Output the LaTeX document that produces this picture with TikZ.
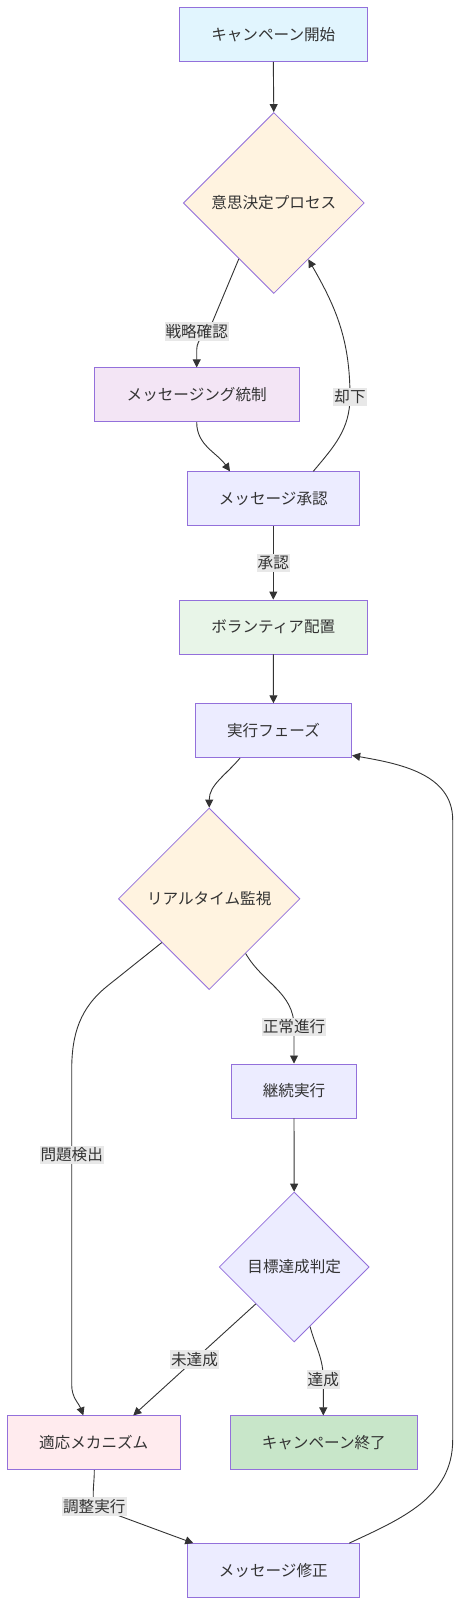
\documentclass[tikz,border=0pt]{standalone}
\usepackage{fontspec}
\usepackage{xcolor}
\usepackage{tikz}
\usetikzlibrary{arrows.meta, positioning, calc, shapes.geometric}
\newfontfamily\jpfont{Noto Sans CJK JP}
\definecolor{edge}{HTML}{333333}
\definecolor{bord}{HTML}{9370DB}
\definecolor{cstart}{HTML}{E1F5FE}
\definecolor{cdec}{HTML}{FFF3E0}
\definecolor{cctl}{HTML}{F3E5F5}
\definecolor{cvol}{HTML}{E8F5E8}
\definecolor{cdef}{HTML}{ECECFF}
\definecolor{cadp}{HTML}{FFEBEE}
\definecolor{cend}{HTML}{C8E6C9}
\definecolor{clbl}{HTML}{E8E8E8}
\tikzset{
	box/.style={draw=bord, line width=0.8pt, text=edge, minimum height=54pt, inner sep=0pt, font=\jpfont\fontsize{15.6}{18}\selectfont},
	dec/.style={box, diamond, minimum width=#1, minimum height=#1},
	lbl/.style={fill=clbl, text=edge, inner xsep=1pt, inner ysep=2pt, font=\jpfont\fontsize{15.6}{18}\selectfont},
	conn/.style={draw=edge, line width=0.9pt},
	arr/.style={conn, -{Triangle[length=8pt,width=8pt]}}
}

\begin{document}
\begin{tikzpicture}[x=1pt, y=-1pt]
			\path[fill=white] (0,0) rectangle (461,1606);
			\useasboundingbox (0,0) rectangle (461,1606);
			\node[box, fill=cstart, minimum width=188pt] (s) at (273.3,34.5) {キャンペーン開始};
			\node[dec=181pt, fill=cdec] (d1) at (273.8,203) {意思決定プロセス};
			\node[box, fill=cctl, minimum width=204.7pt] (m1) at (196.7,394.8) {メッセージング統制};
			\node[box, fill=cdef, minimum width=172pt] (m2) at (273.3,498.7) {メッセージ承認};
			\node[box, fill=cvol, minimum width=188pt] (v) at (273.3,627) {ボランティア配置};
			\node[box, fill=cdef, minimum width=156.4pt] (e) at (273.5,730.7) {実行フェーズ};
			\node[dec=181.6pt, fill=cdec] (d2) at (209.2,898.8) {リアルタイム監視};
			\node[box, fill=cdef, minimum width=124.3pt] (c) at (294,1090.9) {継続実行};
			\node[dec=150pt, fill=cdef] (d3) at (294.2,1267) {目標達成判定};
			\node[box, fill=cadp, minimum width=172.7pt] (a) at (93.7,1442.8) {適応メカニズム};
			\node[box, fill=cend, minimum width=187.7pt] (f) at (323.8,1442.8) {キャンペーン終了};
			\node[box, fill=cdef, minimum width=172pt] (m3) at (273.3,1570.5) {メッセージ修正};
			\coordinate (l1) at (196.7,331.7);
			\coordinate (k1a) at (212,323);
			\coordinate (k1b) at (196.7,350);
			\coordinate (l2) at (350,396.7);
			\coordinate (l4) at (294,1026.7);
			\coordinate (l5) at (71.7,1155);
			\coordinate (k5s) at (108,985.5);
			\coordinate (k5a) at (71.7,1070);
			\coordinate (k5b) at (71.7,1385);
			\coordinate (l7) at (323.3,1379.3);
			\coordinate (l8) at (94.3,1506.7);
			\coordinate (r1) at (452.7,1440);
			\coordinate (r2) at (452.7,820);
			\draw[arr] (s.south) -- (d1.north);
			\draw[arr] ($(d1.west)!.615!(d1.south)$) -- (k1a) to[out=-114,in=90] (k1b) -- (m1.north);
			\draw[arr] (m1.south) to[out=-90,in=125] ([xshift=-43.3pt]m2.north);
			\draw[arr] ([xshift=40pt]m2.north) to[out=50,in=-90] (l2) to[out=90,in=-60] ($(d1.south)!.38!(d1.east)$);
			\draw[arr] (m2) -- node[lbl] (t3) {承認} (v);
			\draw[arr] (v) -- (e);
			\draw[arr] ([xshift=-33.5pt]e.south) to[out=-130,in=90] (d2.north);
			\draw[arr] ($(d2.south)!.4!(d2.east)$) to[out=-60,in=90] (l4) -- (c.north);
			\draw[arr] ($(d2.west)!.48!(d2.south)$) -- (k5s) to[out=-141.6,in=90] (k5a) -- (k5b) to[out=-90,in=110] ([xshift=-10.4pt]a.north);
			\draw[arr] (c) -- (d3);
			\draw[arr] ($(d3.west)!.49!(d3.south)$) -- node[lbl] (t6) {未達成} ([xshift=39.6pt]a.north);
			\draw[arr] ($(d3.south)!.21!(d3.east)$) to[out=-75,in=90] (l7) -- ([xshift=-0.5pt]f.north);
			\draw[arr] ([xshift=0.6pt]a.south) to[out=-90,in=100] (l8) to[out=-20,in=160] ([xshift=-80pt]m3.north);
			\draw[arr] ([xshift=76pt]m3.north) to[out=25,in=-90] (r1) -- (r2) to[out=90,in=-10] ([yshift=2.7pt]e.south east);
			\node[lbl] (t1) at (l1) {戦略確認};
			\node[lbl] (t2) at (l2) {却下};
			\node[lbl] (t4) at (l4) {正常進行};
			\node[lbl] (t5) at (l5) {問題検出};
			\node[lbl] (t7) at (l7) {達成};
			\node[lbl] (t8) at (l8) {調整実行};
		\end{tikzpicture}
\end{document}
